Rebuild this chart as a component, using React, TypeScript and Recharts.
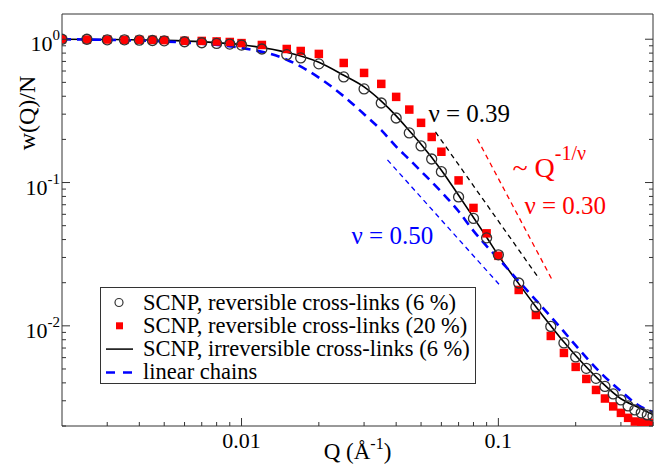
import React from 'react';
import { ComposedChart, Line, Scatter, XAxis, YAxis, Legend } from 'recharts';

// Q grid shared by the two simulated data sets drawn as symbols
const Q_POINTS = [
  0.002, 0.0025, 0.003, 0.0035, 0.004, 0.0045, 0.005, 0.006, 0.007, 0.008, 0.009,
  0.01, 0.012, 0.015, 0.017, 0.02, 0.025, 0.03, 0.035, 0.04, 0.045, 0.05, 0.055, 0.06,
  0.07, 0.08, 0.09, 0.1, 0.12, 0.14, 0.16, 0.18, 0.2, 0.22, 0.24, 0.26, 0.28, 0.3,
  0.32, 0.34, 0.36, 0.38, 0.4,
];
const W_REV_6 = [
  1.0, 1.0, 0.99, 0.99, 0.985, 0.98, 0.975, 0.96, 0.945, 0.935, 0.925,
  0.91, 0.855, 0.78, 0.74, 0.673, 0.546, 0.45, 0.359, 0.282, 0.222, 0.18, 0.146, 0.119,
  0.0793, 0.0562, 0.0411, 0.0313, 0.0199, 0.01355, 0.0099, 0.0076, 0.00607, 0.00505, 0.0043, 0.00378, 0.00335, 0.00304,
  0.00276, 0.00259, 0.00247, 0.00239, 0.00235,
];
const W_REV_20 = [
  1.0, 0.995, 0.995, 0.99, 0.99, 0.99, 0.985, 0.975, 0.973, 0.965, 0.957,
  0.94, 0.912, 0.855, 0.828, 0.79, 0.683, 0.582, 0.488, 0.396, 0.323, 0.261, 0.208, 0.164,
  0.1035, 0.0665, 0.0442, 0.0308, 0.0178, 0.0119, 0.0085, 0.00647, 0.00517, 0.00426, 0.00357, 0.00311, 0.00274, 0.00247,
  0.00228, 0.00215, 0.00212, 0.0021, 0.0021,
];

// Q grid of the two continuous curves
const Q_CURVE = [
  0.002, 0.003, 0.005, 0.007, 0.01, 0.015, 0.02, 0.025, 0.03, 0.035, 0.04, 0.045, 0.05,
  0.06, 0.07, 0.08, 0.09, 0.1, 0.12, 0.14, 0.16, 0.18, 0.2, 0.25, 0.3, 0.35, 0.4,
];
const W_IRREV_6 = [
  1.0, 0.996, 0.982, 0.96, 0.915, 0.81, 0.69, 0.56, 0.465, 0.37, 0.292, 0.23, 0.185,
  0.122, 0.0815, 0.057, 0.0415, 0.031, 0.0197, 0.0136, 0.01, 0.0077, 0.0062, 0.0041, 0.0031, 0.0027, 0.0024,
];
const W_LINEAR = [
  1.0, 0.99, 0.965, 0.93, 0.87, 0.72, 0.54, 0.4, 0.3, 0.232, 0.178, 0.145, 0.12,
  0.086, 0.063, 0.046, 0.036, 0.0295, 0.0205, 0.0151, 0.0116, 0.0091, 0.0073, 0.0047, 0.0035, 0.0028, 0.0025,
];

// power-law guides ~ Q^(-1/nu), two end points each
const Q_NU039 = [0.0569, 0.1444];
const W_NU039 = [0.2254, 0.0212];
const Q_NU030 = [0.0828, 0.162];
const W_NU030 = [0.2015, 0.0209];
const Q_NU050 = [0.037, 0.1027];
const W_NU050 = [0.1438, 0.0187];

// text notes, anchored at data coordinates (left end of the baseline)
const NOTE_TEXT = ['ν = 0.39', 'ν = 0.30', 'ν = 0.50', '~ Q'];
const NOTE_SUP = ['', '', '', '-1/ν'];
const NOTE_Q = [0.0534, 0.1263, 0.0268, 0.1134];
const NOTE_W = [0.266, 0.0604, 0.0373, 0.1094];

const X_TICKS = [
  0.003, 0.004, 0.005, 0.006, 0.007, 0.008, 0.009, 0.01,
  0.02, 0.03, 0.04, 0.05, 0.06, 0.07, 0.08, 0.09, 0.1, 0.2, 0.3, 0.4,
];
const X_MAJOR = [0.01, 0.1];
const X_MAJOR_LABELS = ['0.01', '0.1'];
const Y_TICKS = [
  0.002, 0.003, 0.004, 0.005, 0.006, 0.007, 0.008, 0.009, 0.01,
  0.02, 0.03, 0.04, 0.05, 0.06, 0.07, 0.08, 0.09, 0.1,
  0.2, 0.3, 0.4, 0.5, 0.6, 0.7, 0.8, 0.9, 1,
];
const Y_MAJOR = [1, 0.1, 0.01];
const Y_MAJOR_EXP = ['0', '-1', '-2'];

const LEGEND_LABELS = [
  'SCNP, reversible cross-links (6 %)',
  'SCNP, reversible cross-links (20 %)',
  'SCNP, irreversible cross-links (6 %)',
  'linear chains',
];

const FONT = "'Liberation Serif', 'Times New Roman', serif";
const AXIS = '#333';
const RED = '#ff0000';
const BLUE = '#0000ff';
const NOTE_COLORS = ['#000', RED, BLUE, RED];

const zip = (qs: number[], ws: number[]) => qs.map((q, i) => ({ q, w: ws[i] }));

const rev6 = zip(Q_POINTS, W_REV_6);
const rev20 = zip(Q_POINTS, W_REV_20);
const irrev6 = zip(Q_CURVE, W_IRREV_6);
const linear = zip(Q_CURVE, W_LINEAR);
const nu039 = zip(Q_NU039, W_NU039);
const nu030 = zip(Q_NU030, W_NU030);
const nu050 = zip(Q_NU050, W_NU050);
const notes = NOTE_TEXT.map((text, i) => ({ q: NOTE_Q[i], w: NOTE_W[i], text, sup: NOTE_SUP[i], i }));

// axes are 1px thick boxes; ticks point inward like in the original plot
function BottomTick({ x, y, payload }: any) {
  const i = X_MAJOR.indexOf(payload.value);
  return (
    <g>
      <line x1={x} x2={x} y1={y} y2={y - (i >= 0 ? 8 : 4)} stroke={AXIS} />
      {i >= 0 && (
        <text x={x} y={y + 22} textAnchor="middle" fontSize={22} fontFamily={FONT} fill="#000">
          {X_MAJOR_LABELS[i]}
        </text>
      )}
    </g>
  );
}

function TopTick({ x, y, payload }: any) {
  const major = X_MAJOR.includes(payload.value);
  return <line x1={x} x2={x} y1={y} y2={y + (major ? 8 : 4)} stroke={AXIS} />;
}

function LeftTick({ x, y, payload }: any) {
  const i = Y_MAJOR.indexOf(payload.value);
  return (
    <g>
      <line x1={x} x2={x + (i >= 0 ? 8 : 4)} y1={y} y2={y} stroke={AXIS} />
      {i >= 0 && (
        <text x={x - 2} y={y + 12} textAnchor="end" fontSize={22} fontFamily={FONT} fill="#000">
          10<tspan dy={-11} fontSize={15}>{Y_MAJOR_EXP[i]}</tspan>
        </text>
      )}
    </g>
  );
}

function RightTick({ x, y, payload }: any) {
  const major = Y_MAJOR.includes(payload.value);
  return <line x1={x} x2={x - (major ? 8 : 4)} y1={y} y2={y} stroke={AXIS} />;
}

const circleShape = (p: any) => (
  <circle cx={p.cx} cy={p.cy} r={5} fill="none" stroke={AXIS} strokeWidth={1.3} />
);
const squareShape = (p: any) => <rect x={p.cx - 4.25} y={p.cy - 4.25} width={8.5} height={8.5} fill={RED} />;

const noteShape = (p: any) => {
  const n = p.payload;
  const color = NOTE_COLORS[n.i];
  if (n.sup) {
    return (
      <text x={p.cx} y={p.cy} fill={color} fontSize={28} fontFamily={FONT}>
        {n.text}
        <tspan dy={-17} fontSize={20}>{n.sup}</tspan>
      </text>
    );
  }
  return (
    <text x={p.cx} y={p.cy} fill={color} fontSize={25} fontFamily={FONT}>
      {n.text}
    </text>
  );
};

const xLabel = (p: any) => {
  const vb = p.viewBox;
  return (
    <text x={vb.x + vb.width / 2} y={vb.y + 33} textAnchor="middle" fontSize={23} fontFamily={FONT} fill="#000">
      Q (Å<tspan dy={-10} fontSize={16}>-1</tspan>
      <tspan dy={10}>)</tspan>
    </text>
  );
};

const yLabel = (p: any) => {
  const vb = p.viewBox;
  const cx = vb.x + vb.width - 27;
  const cy = vb.y + 99;
  return (
    <text x={cx} y={cy} transform={`rotate(-90, ${cx}, ${cy})`} textAnchor="middle" fontSize={24} fontFamily={FONT} fill="#000">
      w(Q)/N
    </text>
  );
};

function LegendBox() {
  return (
    <svg width={376} height={97} style={{ display: 'block' }}>
      <rect x={0.5} y={0.5} width={375} height={96} fill="#fff" stroke={AXIS} />
      {LEGEND_LABELS.map((label, i) => {
        const cy = 15.5 + i * 23.3;
        return (
          <g key={label}>
            {i === 0 && <circle cx={19} cy={cy} r={4} fill="none" stroke={AXIS} strokeWidth={1.2} />}
            {i === 1 && <rect x={16} y={cy - 3.5} width={7} height={7} fill={RED} />}
            {i === 2 && <line x1={6} x2={33} y1={cy} y2={cy} stroke="#000" strokeWidth={1.5} />}
            {i === 3 && (
              <line x1={6} x2={33} y1={cy} y2={cy} stroke={BLUE} strokeWidth={2.5} strokeDasharray="9 8" />
            )}
            <text x={43} y={cy + 7} fontSize={22.5} fontFamily={FONT} fill="#000">
              {label}
            </text>
          </g>
        );
      })}
    </svg>
  );
}

export default function App() {
  return (
    <div style={{ position: 'absolute', left: 0, top: 0, width: 655, height: 464, background: '#fff' }}>
      <ComposedChart width={655} height={464} margin={{ top: 13, right: 1, bottom: 37, left: 61 }}>
        <XAxis
          dataKey="q"
          type="number"
          scale="log"
          domain={[0.002, 0.4]}
          allowDataOverflow
          ticks={X_TICKS}
          interval={0}
          height={1}
          tickSize={0}
          tickMargin={0}
          tickLine={false}
          axisLine={{ stroke: AXIS }}
          tick={<BottomTick />}
          label={xLabel}
        />
        <XAxis
          xAxisId="top"
          orientation="top"
          type="number"
          scale="log"
          domain={[0.002, 0.4]}
          allowDataOverflow
          ticks={X_TICKS}
          interval={0}
          height={1}
          tickSize={0}
          tickMargin={0}
          tickLine={false}
          axisLine={{ stroke: AXIS }}
          tick={<TopTick />}
        />
        <YAxis
          type="number"
          scale="log"
          domain={[0.002, 1.5]}
          allowDataOverflow
          ticks={Y_TICKS}
          interval={0}
          width={1}
          tickSize={0}
          tickMargin={0}
          tickLine={false}
          axisLine={{ stroke: AXIS }}
          tick={<LeftTick />}
          label={yLabel}
        />
        <YAxis
          yAxisId="right"
          orientation="right"
          type="number"
          scale="log"
          domain={[0.002, 1.5]}
          allowDataOverflow
          ticks={Y_TICKS}
          interval={0}
          width={1}
          tickSize={0}
          tickMargin={0}
          tickLine={false}
          axisLine={{ stroke: AXIS }}
          tick={<RightTick />}
        />

        <Line data={nu050} dataKey="w" stroke={BLUE} strokeWidth={1.3} strokeDasharray="5 4" dot={false} activeDot={false} isAnimationActive={false} legendType="none" />
        <Line data={nu039} dataKey="w" stroke="#000" strokeWidth={1.3} strokeDasharray="5 4" dot={false} activeDot={false} isAnimationActive={false} legendType="none" />
        <Line data={nu030} dataKey="w" stroke={RED} strokeWidth={1.3} strokeDasharray="5 4" dot={false} activeDot={false} isAnimationActive={false} legendType="none" />

        <Scatter data={rev20} dataKey="w" shape={squareShape} isAnimationActive={false} name={LEGEND_LABELS[1]} />
        <Scatter data={rev6} dataKey="w" shape={circleShape} isAnimationActive={false} name={LEGEND_LABELS[0]} />
        <Line data={irrev6} dataKey="w" type="monotone" stroke="#000" strokeWidth={1.6} dot={false} activeDot={false} isAnimationActive={false} name={LEGEND_LABELS[2]} />
        <Line data={linear} dataKey="w" type="monotone" stroke={BLUE} strokeWidth={2.6} strokeDasharray="9 6" dot={false} activeDot={false} isAnimationActive={false} name={LEGEND_LABELS[3]} />

        <Scatter data={notes} dataKey="w" shape={noteShape} isAnimationActive={false} legendType="none" />

        <Legend
          layout="vertical"
          align="center"
          verticalAlign="middle"
          content={() => <LegendBox />}
          wrapperStyle={{ left: 100, top: 287, width: 376, height: 97 }}
        />
      </ComposedChart>
    </div>
  );
}
